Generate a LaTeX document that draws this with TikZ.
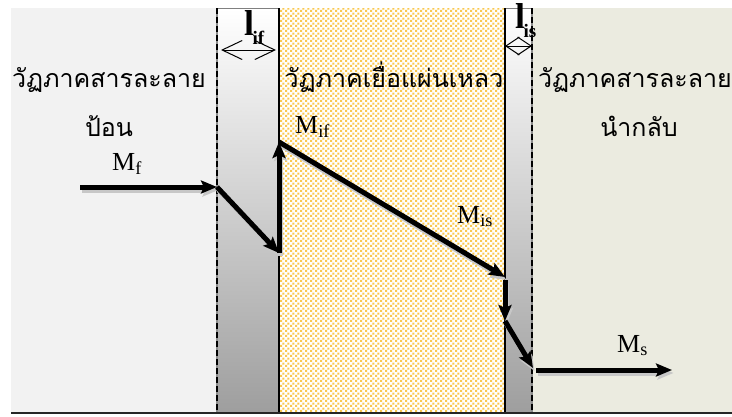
\documentclass[tikz,border=0pt]{standalone}
\usepackage{fontspec}
\setmainfont{Liberation Serif}
\newfontfamily\thaifont[Script=Thai]{Loma}
\usetikzlibrary{arrows.meta,patterns}

\definecolor{FeedPhase}{RGB}{242,242,242}
\definecolor{StripPhase}{RGB}{235,235,224}
\definecolor{LiqMemb}{RGB}{250,200,80}

\pgfdeclarepatternformonly{MembSpeck}{\pgfqpoint{0pt}{0pt}}{\pgfqpoint{5pt}{5pt}}{\pgfqpoint{5pt}{5pt}}{%
  \pgfpathrectangle{\pgfqpoint{0.2pt}{0.2pt}}{\pgfqpoint{2.4pt}{2.4pt}}%
  \pgfpathrectangle{\pgfqpoint{2.7pt}{2.7pt}}{\pgfqpoint{2.4pt}{2.4pt}}%
  \pgfusepath{fill}}

\newcommand{\flux}[1]{M\textsubscript{#1}}
\newcommand{\thick}[1]{{\fontsize{36}{36}\selectfont\bfseries l}\kern-1.5pt
  \raisebox{-9pt}{\fontsize{19}{19}\selectfont\bfseries #1}}

\tikzset{FluxArrow/.style={line width=5pt,-{Stealth[length=16pt,width=13pt,inset=3pt]}},
         FluxShadow/.style={FluxArrow,draw=black!22},
         WidthArrow/.style={line width=1pt},
         PhaseTitle/.style={font=\fontsize{25}{25}\thaifont,anchor=base},
         FluxLabel/.style={font=\fontsize{26}{26}\selectfont,anchor=base west}}

\begin{document}
\begin{tikzpicture}[x=1pt,y=-1pt,every node/.style={inner sep=0pt}]
  \useasboundingbox (0,0) rectangle (732,416);
  % phases
  \fill[FeedPhase] (11,8) rectangle (217,413);
  \shade[top color=white,bottom color=black!38] (217,8) rectangle (279,413);
  \fill[white] (279,8) rectangle (505,413);
  \fill[pattern=MembSpeck,pattern color=LiqMemb] (279,8) rectangle (505,413);
  \shade[top color=white,bottom color=black!38] (505,8) rectangle (532,413);
  \fill[StripPhase] (532,8) rectangle (732,413);
  \draw[gray,line width=1pt] (217,8) -- (279,8) (505,8) -- (532,8);
  % interfaces
  \foreach \x in {279,505}
    \draw[line width=1.8pt] (\x,8) -- (\x,413);
  \foreach \x in {217,532} {
    \draw[black!45,line width=2.4pt] (\x,8) -- (\x,413);
    \draw[line width=1.4pt,dash pattern=on 6pt off 3pt] (\x,8) -- (\x,413);
  }
  \draw[black!85,line width=2pt] (11,413) -- (732,413);

  % layer widths
  \coordinate (lIfA) at (221,50);
  \coordinate (lIfB) at (276,50);
  \coordinate (lIsA) at (505,46);
  \coordinate (lIsB) at (532,46);
  \draw[WidthArrow,{Straight Barb[length=20pt,width=19pt]}-{Straight Barb[length=20pt,width=19pt]}] (lIfA) -- (lIfB);
  \draw[WidthArrow,{Straight Barb[length=13.5pt,width=18pt]}-{Straight Barb[length=13.5pt,width=18pt]}] (lIsA) -- (lIsB);
  \node[anchor=base west] (lIf) at (244,35) {\thick{if}};
  \node[anchor=base west] (lIs) at (515,28) {\thick{is}};

  % phase names
  \node[PhaseTitle] (feedTitle) at (109,87) {วัฏภาคสารละลาย};
  \node[PhaseTitle] (feedSub) at (109,136) {ป้อน};
  \node[PhaseTitle] (membTitle) at (394,87) {วัฏภาคเยื่อแผ่นเหลว};
  \node[PhaseTitle] (stripTitle) at (635,87) {วัฏภาคสารละลาย};
  \node[PhaseTitle] (stripSub) at (639,136) {นำกลับ};

  % concentration profile
  \coordinate (fStart) at (80,187);
  \coordinate (fIf) at (217,187);
  \coordinate (mIfLow) at (279,253);
  \coordinate (mIfHigh) at (279,142);
  \coordinate (mIsHigh) at (505,277);
  \coordinate (mIsTop) at (505,280);
  \coordinate (mIsLow) at (505,321);
  \coordinate (sIs) at (533,368);
  \coordinate (sStart) at (536,370);
  \coordinate (sEnd) at (672,370);
  \foreach \a/\b in {fStart/fIf,fIf/mIfLow,mIfLow/mIfHigh,mIfHigh/mIsHigh,
                     mIsTop/mIsLow,mIsLow/sIs,sStart/sEnd}
    \draw[FluxShadow] ([shift={(1.5,3)}]\a) -- ([shift={(1.5,3)}]\b);
  \foreach \a/\b in {fStart/fIf,fIf/mIfLow,mIfLow/mIfHigh,mIfHigh/mIsHigh,
                     mIsTop/mIsLow,mIsLow/sIs,sStart/sEnd}
    \draw[FluxArrow] (\a) -- (\b);

  \node[FluxLabel] (Mf) at (112,170) {\flux{f}};
  \node[FluxLabel] (Mif) at (295,133) {\flux{if}};
  \node[FluxLabel] (Mis) at (457,223) {\flux{is}};
  \node[FluxLabel] (Ms) at (617,352) {\flux{s}};
\end{tikzpicture}
\end{document}
